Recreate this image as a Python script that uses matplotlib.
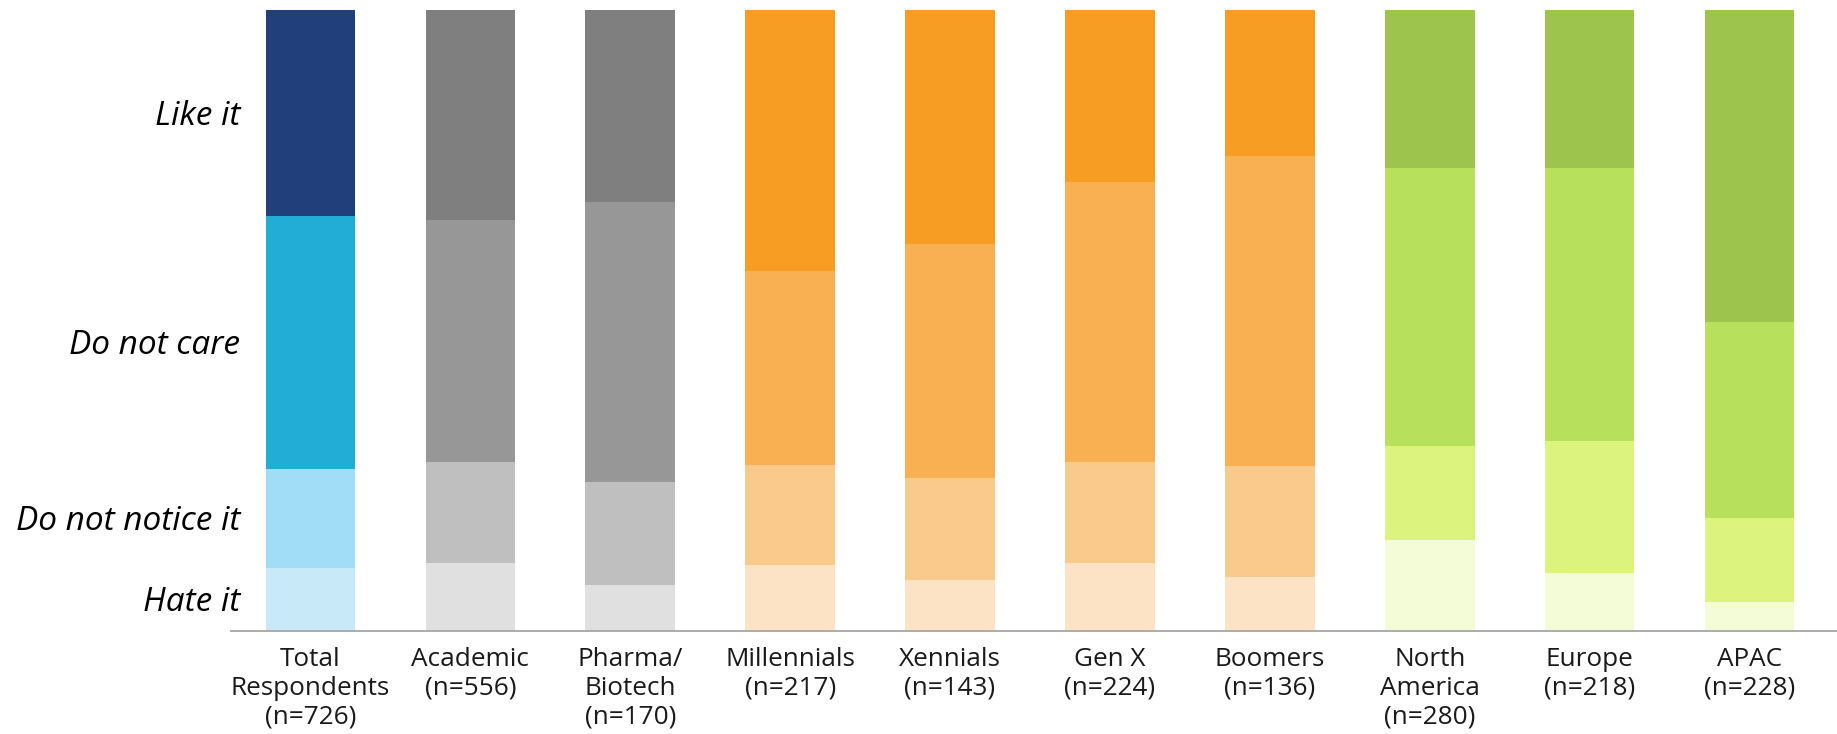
import matplotlib
matplotlib.use("Agg")
import matplotlib.pyplot as plt
import matplotlib.transforms as mtransforms
import numpy as np

plt.rcParams['font.family'] = ['Open Sans', 'DejaVu Sans']

categories = ["Total\nRespondents\n(n=726)", "Academic\n(n=556)", "Pharma/\nBiotech\n(n=170)",
              "Millennials\n(n=217)", "Xennials\n(n=143)", "Gen X\n(n=224)", "Boomers\n(n=136)",
              "North\nAmerica\n(n=280)", "Europe\n(n=218)", "APAC\n(n=228)"]
series_names = ["Hate it", "Do not notice it", "Do not care", "Like it"]
hate   = [10.0, 10.9, 7.4, 10.6, 8.2, 10.9, 8.7, 14.6, 9.3, 4.6]
notice = [16.1, 16.2, 16.6, 16.1, 16.3, 16.3, 17.8, 15.1, 21.3, 13.5]
care   = [40.7, 39.0, 45.0, 31.3, 37.8, 45.1, 50.0, 44.8, 43.9, 31.6]
like   = [33.2, 33.9, 31.0, 42.0, 37.7, 27.7, 23.5, 25.5, 25.5, 50.3]

# colour sets (hate, notice, care, like)
blue   = ["#C8EAF8", "#A1DDF7", "#22ADD6", "#21407B"]
gray   = ["#E0E0E0", "#BFBFBF", "#979797", "#7F7F7F"]
orange = ["#FCE3C5", "#FACA8D", "#F9B053", "#F89D24"]
green  = ["#F4FBD7", "#DCF47E", "#B7E15C", "#9DC54D"]
bar_palettes = [blue, gray, gray, orange, orange, orange, orange, green, green, green]

W, H = 1837, 734
fig = plt.figure(figsize=(W / 100, H / 100), dpi=100)
ax = fig.add_axes([231 / W, (H - 630.5) / H, 1 - 231 / W, (630.5 - 10) / H])

x = np.arange(len(categories))
series = [hate, notice, care, like]
bottom = np.zeros(len(categories))
for k, vals in enumerate(series):
    cols = [p[k] for p in bar_palettes]
    ax.bar(x, vals, bottom=bottom, width=0.56, color=cols, edgecolor='none', zorder=2)
    bottom += np.array(vals)

ax.set_xlim(-0.497, 9.547)
ax.set_ylim(0, 100)
ax.set_xticks(x)
ax.set_xticklabels(categories, fontsize=18.8, color='#1a1a1a')
ax.tick_params(axis='x', length=0, pad=12)
ax.set_yticks([])
for s in ['left', 'right', 'top']:
    ax.spines[s].set_visible(False)
ax.spines['bottom'].set_color('#A6A6A6')
ax.spines['bottom'].set_linewidth(1.3)
ax.spines['bottom'].set_zorder(3)

# category labels at the middle of the Total Respondents segments
fs = 24.0
cap_offset = mtransforms.offset_copy(ax.transData, fig=fig, x=0, y=-0.714 * fs / 2, units='points')
cum = 0.0
for name, vals in zip(series_names, series):
    mid = cum + vals[0] / 2
    cum += vals[0]
    ax.text(-0.441, mid, name, ha='right', va='baseline', fontsize=fs,
            style='italic', color='#000000', clip_on=False, transform=cap_offset)

fig.savefig("out.png", dpi=100)
